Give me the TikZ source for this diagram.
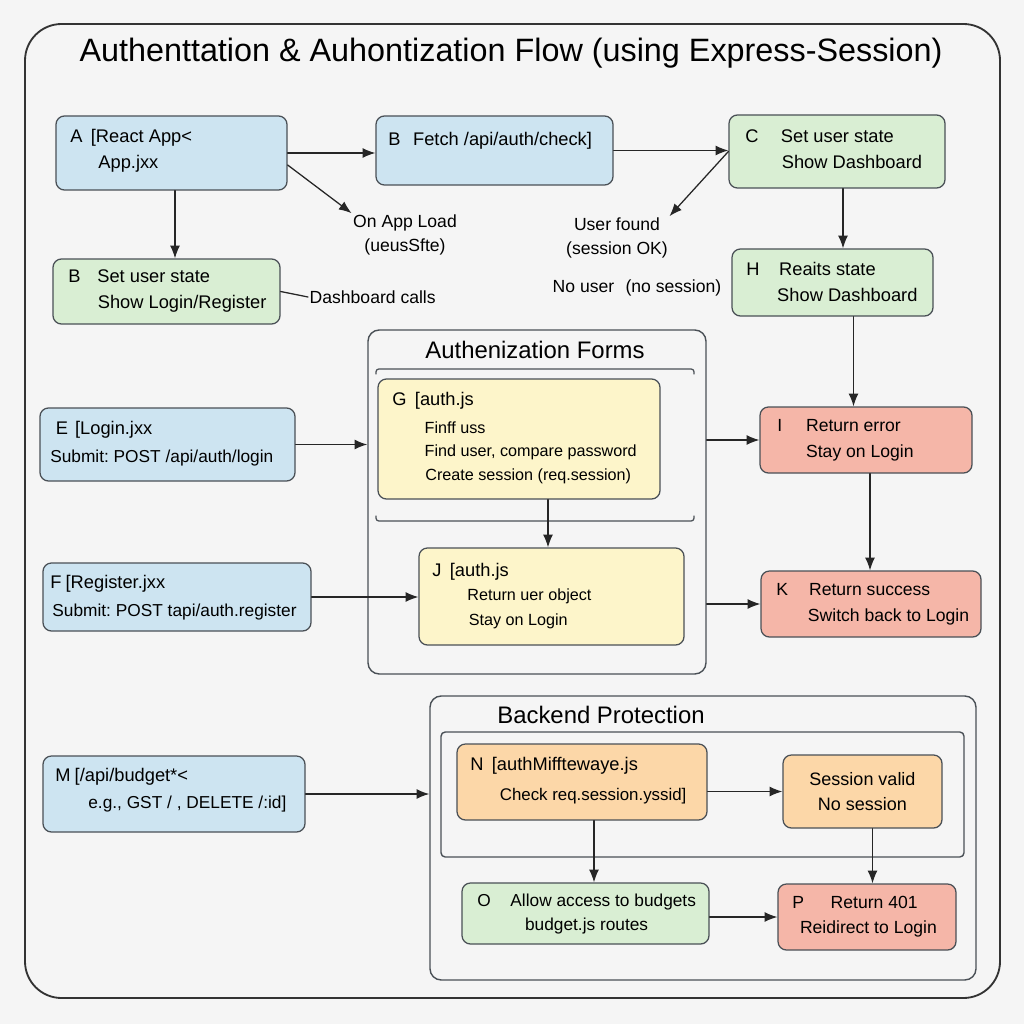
\documentclass[tikz,border=0pt]{standalone}
\usepackage{fontspec}
\setmainfont{Liberation Sans}
\usetikzlibrary{arrows.meta,positioning,fit,calc}
\frenchspacing

\begin{document}
\begin{tikzpicture}[x=0.025cm, y=-0.025cm, >={Latex[length=9pt,width=7pt]},
		line cap=round, line join=round]
		
		% Colors
		\definecolor{PageBg}{HTML}{F5F5F5}
		\definecolor{EdgeGray}{HTML}{4A5056}
		\definecolor{FrontBlue}{HTML}{CDE4F1}
		\definecolor{OkGreen}{HTML}{D9EED3}
		\definecolor{FormYellow}{HTML}{FDF5CA}
		\definecolor{FailRed}{HTML}{F5B6A8}
		\definecolor{GuardOrange}{HTML}{FCD7A8}
		
		% Styles
		\tikzset{
			box/.style={rounded corners=6pt, draw=EdgeGray, line width=0.9pt, inner sep=0pt},
			frontbox/.style={box, fill=FrontBlue},
			okbox/.style={box, fill=OkGreen},
			formbox/.style={box, fill=FormYellow},
			failbox/.style={box, fill=FailRed},
			guardbox/.style={box, fill=GuardOrange},
			group/.style={draw=EdgeGray, line width=1pt, rounded corners=8pt, inner sep=0pt},
			txt/.style={anchor=west, align=left, inner sep=0pt,
				font=\fontsize{13}{18.5}\selectfont},
			midtxt/.style={txt, font=\fontsize{12.5}{18.5}\selectfont},
			smalltxt/.style={txt, font=\fontsize{11.5}{17.5}\selectfont},
			note/.style={align=center, inner sep=1pt, font=\fontsize{12.5}{17}\selectfont},
			heading/.style={font=\fontsize{17}{20}\selectfont},
			link/.style={->, line width=0.9pt, draw=black!85},
			tie/.style={line width=0.9pt, draw=black!85}
		}
		
		\fill[PageBg] (0,0) rectangle (1024,1024);
		\useasboundingbox (0,0) rectangle (1024,1024);
		
		% Frame and title
		\node[fit={(25,24) (1000,998)}, draw=black!80, line width=1.3pt,
			rounded corners=26pt, inner sep=0pt] (frame) {};
		\node[font=\fontsize{23}{27}\selectfont] (title) at (511,53)
		{Authenttation \& Auhontization Flow (using Express-Session)};
		
		% Groups
		\node[group, fit={(368,330) (706,674)}] (forms) {};
		\node[heading] (forms-t) at (535,350) {Authenization Forms};
		\draw[EdgeGray, line width=0.9pt, rounded corners=2pt]
		(376,374) -- (376,369) -- (694,369) -- (694,374);
		\draw[EdgeGray, line width=0.9pt, rounded corners=2pt]
		(376,516) -- (376,521) -- (694,521) -- (694,516);
		
		\node[group, fit={(430,696) (976,980)}] (backend) {};
		\node[heading] (backend-t) at (601,715) {Backend Protection};
		\node[group, rounded corners=3pt, fit={(441,732) (964,857)}] (guard) {};
		
		% Frontend boxes
		\node[frontbox, fit={(56,116) (287,190)}] (A) {};
		\node[txt] (A-t) at (70,151) {A\hspace{6pt}[React App<\\\hspace*{20pt}App.jxx};
		
		\node[frontbox, fit={(376,116) (613,185)}] (Bf) {};
		\node[txt] (Bf-t) at (388,141) {B\hspace{9pt}Fetch /api/auth/check]};
		
		\node[okbox, fit={(729,115) (945,188)}] (C) {};
		\node[txt] (C-t) at (745,149) {C\hspace{16pt}Set user state\\\hspace*{26pt}Show Dashboard};
		
		\node[okbox, fit={(53,259) (280,324)}] (Bs) {};
		\node[txt] (Bs-t) at (68,291.5) {B\hspace{12pt}Set user state\\\hspace*{21pt}Show Login/Register};
		
		\node[okbox, fit={(732,249) (933,316)}] (H) {};
		\node[txt] (H-t) at (746,282) {H\hspace{14pt}Reaits state\\\hspace*{22pt}Show Dashboard};
		
		\node[frontbox, fit={(40,408) (295,481)}] (E) {};
		\node[midtxt, font=\fontsize{12.3}{20}\selectfont] (E-t) at (50,443.5)
		{\hspace*{4pt}{\fontsize{13}{16}\selectfont E\hspace{5pt}[Login.jxx}\\Submit: POST /api/auth/login};
		
		\node[frontbox, fit={(43,563) (311,631)}] (F) {};
		\node[midtxt, font=\fontsize{12.3}{20}\selectfont] (F-t) at (50,597.5)
		{{\fontsize{13}{16}\selectfont F\hspace{3pt}[Register.jxx}\\\hspace*{1.5pt}Submit: POST tapi/auth.register};
		
		% Auth form boxes
		\node[formbox, fit={(378,379) (660,499)}] (G) {};
		\node[smalltxt, font=\fontsize{11.5}{16.8}\selectfont] (G-t) at (392,438)
		{{\fontsize{13}{16}\selectfont G\hspace{6pt}[auth.js}\\[3pt]\hspace*{23pt}Finff uss\\\hspace*{23pt}Find user, compare password\\\hspace*{23.5pt}Create session (req.session)};
		
		\node[formbox, fit={(419,548) (684,645)}] (J) {};
		\node[smalltxt] (J-t) at (432,596)
		{{\fontsize{13}{16}\selectfont J\hspace{6pt}[auth.js}\\\hspace*{25pt}Return uer object\\\hspace*{26pt}Stay on Login};
		
		\node[failbox, fit={(760,407) (972,473)}] (I) {};
		\node[midtxt] (I-t) at (777,440) {I\hspace{17pt}Return error\\\hspace*{20.5pt}Stay on Login};
		
		\node[failbox, fit={(761,571) (981,637)}] (K) {};
		\node[midtxt] (K-t) at (776,604) {K\hspace{15pt}Return success\\\hspace*{22.5pt}Switch back to Login};
		
		% Backend boxes
		\node[frontbox, fit={(43,756) (305,832)}] (M) {};
		\node[smalltxt, font=\fontsize{12.3}{19.5}\selectfont] (M-t) at (55,790)
		{{\fontsize{13}{16}\selectfont M\hspace{3pt}[/api/budget*<}\\\hspace*{23.5pt}e.g., GST / , DELETE /:id]};
		
		\node[guardbox, fit={(457,744) (707,820)}] (N) {};
		\node[smalltxt, font=\fontsize{12}{21}\selectfont] (N-t) at (470,780.5)
		{{\fontsize{13}{16}\selectfont N\hspace{6pt}[authMifftewaye.js}\\\hspace*{21pt}Check req.session.yssid]};
		
		\node[guardbox, fit={(783,755) (942,828)}] (SV) {};
		\node[note, font=\fontsize{12.8}{18}\selectfont] (SV-t) at (SV) {Session valid\\No session};
		
		\node[okbox, fit={(462,883) (709,944)}] (O) {};
		\node[smalltxt, font=\fontsize{12.3}{17}\selectfont] (O-t) at (477,914)
		{O\hspace{14pt}Allow access to budgets\\\hspace*{34pt}budget.js routes};
		
		\node[failbox, fit={(778,884) (956,950)}] (P) {};
		\node[smalltxt, font=\fontsize{12.5}{18}\selectfont] (P-t) at (792,917)
		{P\hspace{19pt}Return 401\\\hspace*{5.5pt}Reidirect to Login};
		
		% Free labels
		\node[note] (load) at (405,235) {On App Load\\(ueusSfte)};
		\node[note] (found) at (617,238) {User found\\(session OK)};
		\node[note] (nouser) at (637,288) {No user\hspace{8pt}(no session)};
		\node[note, anchor=west] (dash) at (308,297) {Dashboard calls};
		
		% Exit points of the vertical connectors
		\coordinate (C-out) at ($(C.south)+(6,0)$);
		\coordinate (H-out) at ($(H.south)+(21,0)$);
		\coordinate (I-out) at ($(I.south)+(4,0)$);
		\coordinate (G-out) at ($(G.south)+(29,0)$);
		\coordinate (N-out) at ($(N.south)+(12,0)$);
		\coordinate (SV-out) at ($(SV.south)+(10,0)$);
		
		% Connectors
		\draw[link] (A.east) -- (A.east -| Bf.west);
		\draw[link] ($(A.east)+(0,12)$) -- (load.north west);
		\draw[link] (A.south -| 175,0) -- (175,0 |- Bs.north);
		\draw[tie] (Bs.east) -- (dash.west);
		\draw[link] (Bf.east) -- (Bf.east -| C.west);
		\draw[link] (C.west) -- (found.north east);
		\draw[link] (C-out) -- (C-out |- H.north);
		\draw[link] (H-out) -- (H-out |- I.north);
		\draw[link] (I-out) -- (I-out |- K.north);
		
		\draw[link] (E.east) -- (E.east -| forms.west);
		\draw[link] (F.east) -- (F.east -| J.west);
		\draw[link] (G-out) -- (G-out |- J.north);
		\draw[link] (forms.east |- I.west) -- (I.west);
		\draw[link] (forms.east |- K.west) -- (K.west);
		
		\draw[link] (M.east) -- (M.east -| backend.west);
		\draw[link] (SV.west -| N.east) -- (SV.west);
		\draw[link] (N-out) -- (N-out |- O.north);
		\draw[link] (SV-out) -- (SV-out |- P.north);
		\draw[link] (P.west -| O.east) -- (P.west);
		
	\end{tikzpicture}
\end{document}
